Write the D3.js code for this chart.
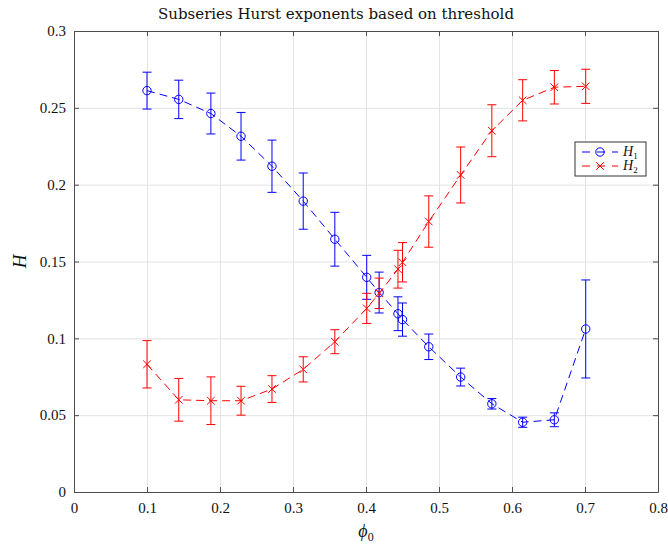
<!DOCTYPE html>
<html>
<head>
<meta charset="utf-8">
<script src="https://cdn.jsdelivr.net/npm/d3@7"></script>
<style>
  body { margin: 0; background: #fff; }
  svg { font-family: "Liberation Serif", "DejaVu Serif", serif; }
</style>
</head>
<body>
<svg id="chart" width="668" height="545"></svg>
<script>
// threshold values (phi_0), shared by both series
var phi = [0.1, 0.1435, 0.1875, 0.2288, 0.2712, 0.314, 0.3573, 0.401, 0.418, 0.4438, 0.450, 0.486, 0.5297, 0.5724, 0.6146, 0.658, 0.701];

// H1 (blue, circles)
var h1 = [0.2612, 0.2555, 0.2463, 0.2315, 0.212, 0.1893, 0.1645, 0.1397, 0.1298, 0.116, 0.1122, 0.0945, 0.0748, 0.0574, 0.0454, 0.047, 0.1061];
var h1Err = [0.012, 0.0125, 0.0133, 0.0155, 0.017, 0.0183, 0.0175, 0.0143, 0.0133, 0.011, 0.0108, 0.0083, 0.0058, 0.0034, 0.0033, 0.0045, 0.0319];

// H2 (red, crosses)
var h2 = [0.0831, 0.060, 0.0594, 0.0594, 0.067, 0.0798, 0.0978, 0.1195, 0.1293, 0.145, 0.1495, 0.176, 0.2063, 0.2351, 0.2549, 0.2634, 0.264];
var h2Err = [0.0154, 0.0139, 0.0155, 0.0094, 0.0087, 0.0082, 0.0078, 0.0098, 0.0099, 0.0123, 0.0128, 0.0167, 0.0182, 0.0169, 0.0134, 0.0109, 0.0111];

var xTicks = [0, 0.1, 0.2, 0.3, 0.4, 0.5, 0.6, 0.7, 0.8];
var yTicks = [0, 0.05, 0.1, 0.15, 0.2, 0.25, 0.3];

var margin = {top: 31, right: 10, bottom: 53, left: 74};
var width = 668 - margin.left - margin.right;
var height = 545 - margin.top - margin.bottom;

var svg = d3.select("#chart");
var g = svg.append("g").attr("transform", "translate(" + margin.left + "," + margin.top + ")");

var x = d3.scaleLinear().domain([0, 0.8]).range([0, width]);
var y = d3.scaleLinear().domain([0, 0.3]).range([height, 0]);

var fmt = function(d){ return d === 0 ? "0" : d3.format("")(+d.toFixed(2)); };

// grid
g.append("g").attr("class", "grid")
  .attr("transform", "translate(0," + height + ")")
  .call(d3.axisBottom(x).tickValues(xTicks).tickSize(-height).tickFormat(""))
  .call(function(s){ s.select(".domain").remove(); s.selectAll("line").attr("stroke", "#e3e3e3"); });
g.append("g").attr("class", "grid")
  .call(d3.axisLeft(y).tickValues(yTicks).tickSize(-width).tickFormat(""))
  .call(function(s){ s.select(".domain").remove(); s.selectAll("line").attr("stroke", "#e3e3e3"); });

var axisColor = "#4d4d4d";
function styleAxis(s) {
  s.select(".domain").attr("stroke", axisColor).attr("stroke-width", 1);
  s.selectAll(".tick line").attr("stroke", axisColor);
  s.selectAll("text").attr("fill", "#111").style("font-size", "15px").style("font-family", "Liberation Serif, serif");
}

g.append("g").attr("transform", "translate(0," + height + ")")
  .call(d3.axisBottom(x).tickValues(xTicks).tickSize(-5).tickSizeOuter(0).tickPadding(10).tickFormat(fmt))
  .call(styleAxis);
g.append("g")
  .call(d3.axisTop(x).tickValues(xTicks).tickSize(-5).tickSizeOuter(0).tickFormat(""))
  .call(styleAxis);
g.append("g")
  .call(d3.axisLeft(y).tickValues(yTicks).tickSize(-5).tickSizeOuter(0).tickPadding(8).tickFormat(fmt))
  .call(styleAxis);
g.append("g").attr("transform", "translate(" + width + ",0)")
  .call(d3.axisRight(y).tickValues(yTicks).tickSize(-5).tickSizeOuter(0).tickFormat(""))
  .call(styleAxis);

function series(vals, errs, color, marker) {
  var data = phi.map(function(p, i){ return {x: p, y: vals[i], e: errs[i]}; });
  var line = d3.line().x(function(d){ return x(d.x); }).y(function(d){ return y(d.y); });
  var sg = g.append("g");
  sg.append("path").datum(data)
    .attr("d", line).attr("fill", "none").attr("stroke", color)
    .attr("stroke-width", 1).attr("stroke-dasharray", "8,5");

  var eb = sg.selectAll(".eb").data(data).enter().append("g");
  eb.append("line")
    .attr("x1", function(d){ return x(d.x); }).attr("x2", function(d){ return x(d.x); })
    .attr("y1", function(d){ return y(d.y - d.e); }).attr("y2", function(d){ return y(d.y + d.e); })
    .attr("stroke", color).attr("stroke-width", 1);
  [-1, 1].forEach(function(sgn){
    eb.append("line")
      .attr("x1", function(d){ return x(d.x) - 4.5; }).attr("x2", function(d){ return x(d.x) + 4.5; })
      .attr("y1", function(d){ return y(d.y + sgn * d.e); }).attr("y2", function(d){ return y(d.y + sgn * d.e); })
      .attr("stroke", color).attr("stroke-width", 1);
  });
  drawMarkers(sg, data.map(function(d){ return [x(d.x), y(d.y)]; }), color, marker);
}

function drawMarkers(sel, pts, color, marker) {
  pts.forEach(function(p){
    if (marker === "o") {
      sel.append("circle").attr("cx", p[0]).attr("cy", p[1]).attr("r", 4.2)
        .attr("fill", "none").attr("stroke", color).attr("stroke-width", 1);
    } else {
      var s = 3.8;
      sel.append("path")
        .attr("d", "M" + (p[0]-s) + "," + (p[1]-s) + "L" + (p[0]+s) + "," + (p[1]+s) +
                   "M" + (p[0]-s) + "," + (p[1]+s) + "L" + (p[0]+s) + "," + (p[1]-s))
        .attr("stroke", color).attr("stroke-width", 1);
    }
  });
}

series(h1, h1Err, "#0000ff", "o");
series(h2, h2Err, "#ff0000", "x");

// title and labels
svg.append("text").attr("x", 336).attr("y", 19).attr("text-anchor", "middle")
  .style("font-size", "15px").style("font-family", "DejaVu Serif, serif").attr("fill", "#111")
  .text("Subseries Hurst exponents based on threshold");

var xl = svg.append("text").attr("x", margin.left + width / 2).attr("y", 537)
  .attr("text-anchor", "middle").style("font-size", "18px").attr("fill", "#111");
xl.append("tspan").style("font-style", "italic").text("\u03d5");
xl.append("tspan").attr("dy", 4).style("font-size", "12px").text("0");

svg.append("text").attr("transform", "translate(26," + (margin.top + height / 2) + ") rotate(-90)")
  .attr("text-anchor", "middle").style("font-size", "19px").style("font-style", "italic").attr("fill", "#111")
  .text("H");

// legend
var legend = svg.append("g").attr("transform", "translate(575,142)");
legend.append("rect").attr("width", 71).attr("height", 34)
  .attr("fill", "#fff").attr("stroke", "#333").attr("stroke-width", 1);
var entries = [{label: "1", color: "#0000ff", marker: "o"}, {label: "2", color: "#ff0000", marker: "x"}];
entries.forEach(function(e, i){
  var ly = 10 + i * 14;
  legend.append("line").attr("x1", 7).attr("x2", 43).attr("y1", ly).attr("y2", ly)
    .attr("stroke", e.color).attr("stroke-width", 1).attr("stroke-dasharray", "8,7");
  drawMarkers(legend, [[25, ly]], e.color, e.marker);
  var t = legend.append("text").attr("x", 48).attr("y", ly + 4).style("font-size", "14px").attr("fill", "#111");
  t.append("tspan").style("font-style", "italic").text("H");
  t.append("tspan").attr("dy", 3).style("font-size", "9px").text(e.label);
});
</script>
</body>
</html>
